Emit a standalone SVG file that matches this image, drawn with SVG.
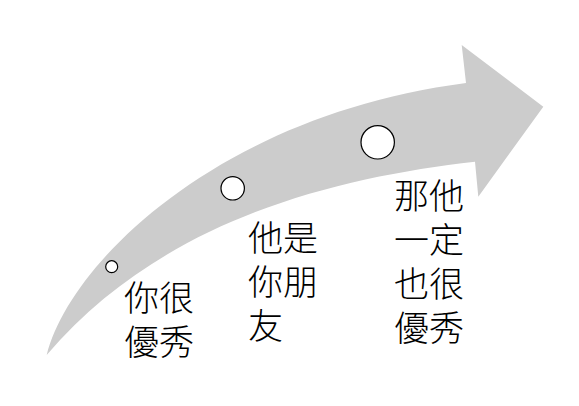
<svg xmlns="http://www.w3.org/2000/svg" width="579" height="406" viewBox="0 0 579 406">
<style>
.arrow{fill:#cccccc;stroke:none}
.dot{fill:#ffffff;stroke:#000000;stroke-width:1.2}
.lbl{font-family:"Noto Sans CJK TC","Noto Sans CJK SC",sans-serif;font-size:35px;font-weight:300;fill:#000000}
</style>
<rect x="0" y="0" width="579" height="406" fill="#ffffff"/>
<g id="connectors">
<path id="arrow" class="arrow" d="M46.7,355 C70,262 220,115 466,83 L461.7,45 L543.3,106.7 L478.3,196.7 L475,161.7 C330,178 160,222 46.7,355 Z"/>
</g>
<g id="node1">
<circle class="dot" cx="111.7" cy="266.7" r="6"/>
<text class="lbl" x="124" y="311"><tspan x="124">你很</tspan><tspan x="124" dy="44">優秀</tspan></text>
</g>
<g id="node2">
<circle class="dot" cx="232.7" cy="188.3" r="11.7"/>
<text class="lbl" x="248" y="251"><tspan x="248">他是</tspan><tspan x="248" dy="44">你朋</tspan><tspan x="248" dy="44">友</tspan></text>
</g>
<g id="node3">
<circle class="dot" cx="377.7" cy="142.3" r="16.7"/>
<text class="lbl" x="394" y="209"><tspan x="394">那他</tspan><tspan x="394" dy="44">一定</tspan><tspan x="394" dy="44">也很</tspan><tspan x="394" dy="44">優秀</tspan></text>
</g>
</svg>
